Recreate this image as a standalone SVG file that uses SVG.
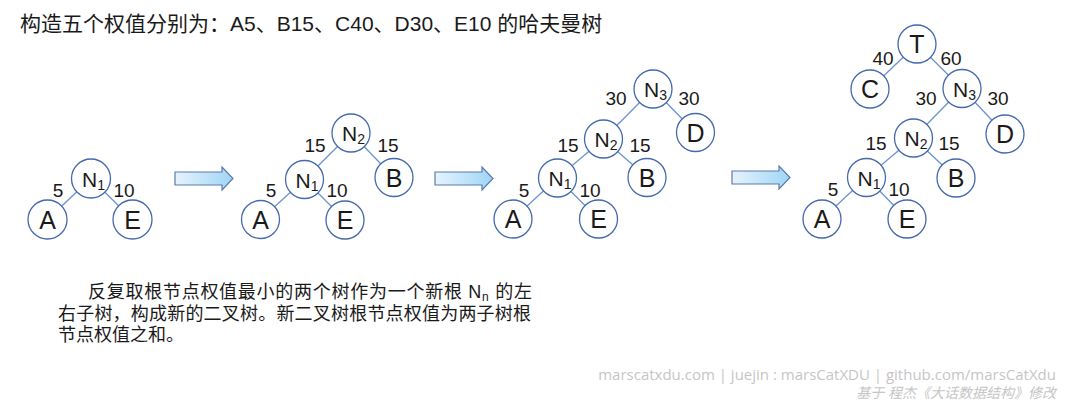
<svg xmlns="http://www.w3.org/2000/svg" width="1065" height="408" viewBox="0 0 1065 408">
<style>
.c{fill:#fff;stroke:#4469ad;stroke-width:1.3}
.e{stroke:#6d93cf;stroke-width:1.3;fill:none}
.lt{font-family:"Liberation Sans","Noto Sans CJK SC",sans-serif;fill:#1a1a1a;text-anchor:middle;font-size:25px}
.nt{font-family:"Liberation Sans",sans-serif;fill:#1a1a1a;font-size:21px}
.sb{font-size:14px}
.w{font-family:"Liberation Sans",sans-serif;fill:#1a1a1a;font-size:19px;text-anchor:middle}
.cn{font-family:"Liberation Sans","Noto Sans CJK SC",sans-serif;fill:#1a1a1a}
.ft{font-family:"Open Sans","Noto Sans CJK SC",sans-serif;fill:#c6c6c6;text-anchor:end}
.ar{fill:url(#g);stroke:#5a7cab;stroke-width:1.2}
</style>
<defs>
<linearGradient id="g" x1="0" y1="0" x2="1" y2="0">
<stop offset="0" stop-color="#e6f3fd"/>
<stop offset="1" stop-color="#9fd5f6"/>
</linearGradient>
<path id="arr" d="M175,172 H222 V167 L233,178.5 L222,190 V185 H175 Z"/>
</defs>

<text class="cn" x="20" y="31" font-size="21">构造五个权值分别为：A5、B15、C40、D30、E10 的哈夫曼树</text>

<g id="arrows">
<use href="#arr" class="ar"/>
<use href="#arr" class="ar" transform="translate(260,0)"/>
<use href="#arr" class="ar" transform="translate(557,-1)"/>
</g>

<g id="connectors">
<line class="e" x1="91" y1="178.5" x2="47.5" y2="219.5"/>
<line class="e" x1="91" y1="178.5" x2="132.5" y2="219.5"/>
<line class="e" x1="351" y1="133" x2="304.5" y2="179.5"/>
<line class="e" x1="351" y1="133" x2="394" y2="177.5"/>
<line class="e" x1="304.5" y1="179.5" x2="260.5" y2="219.5"/>
<line class="e" x1="304.5" y1="179.5" x2="345" y2="220"/>
<line class="e" x1="653" y1="89" x2="603.5" y2="139"/>
<line class="e" x1="653" y1="89" x2="695.5" y2="132.5"/>
<line class="e" x1="603.5" y1="139" x2="557.5" y2="178"/>
<line class="e" x1="603.5" y1="139" x2="647" y2="177.5"/>
<line class="e" x1="557.5" y1="178" x2="513" y2="219"/>
<line class="e" x1="557.5" y1="178" x2="598.5" y2="219"/>
<line class="e" x1="917" y1="44" x2="870" y2="89"/>
<line class="e" x1="917" y1="44" x2="962" y2="88.5"/>
<line class="e" x1="962" y1="88.5" x2="913.5" y2="138"/>
<line class="e" x1="962" y1="88.5" x2="1005" y2="134"/>
<line class="e" x1="913.5" y1="138" x2="866.5" y2="177.5"/>
<line class="e" x1="913.5" y1="138" x2="956" y2="178"/>
<line class="e" x1="866.5" y1="177.5" x2="822" y2="219"/>
<line class="e" x1="866.5" y1="177.5" x2="907" y2="219"/>
</g>

<g id="weights">
<text class="w" x="58" y="197">5</text>
<text class="w" x="124" y="197">10</text>

<text class="w" x="315" y="152">15</text>
<text class="w" x="388" y="152">15</text>
<text class="w" x="271" y="197">5</text>
<text class="w" x="337" y="197">10</text>

<text class="w" x="616" y="105">30</text>
<text class="w" x="689" y="105">30</text>
<text class="w" x="568" y="152">15</text>
<text class="w" x="640" y="152">15</text>
<text class="w" x="524" y="197">5</text>
<text class="w" x="590" y="197">10</text>

<text class="w" x="883" y="65">40</text>
<text class="w" x="951" y="65">60</text>
<text class="w" x="926" y="105">30</text>
<text class="w" x="998" y="105">30</text>
<text class="w" x="876" y="150">15</text>
<text class="w" x="949" y="150">15</text>
<text class="w" x="833" y="196">5</text>
<text class="w" x="899" y="196">10</text>
</g>

<g id="t1-N1"><circle class="c" cx="91" cy="178.5" r="19.5"/><text class="nt" x="82" y="187">N<tspan class="sb" dy="3">1</tspan></text></g>
<g id="t1-A"><circle class="c" cx="47.5" cy="219.5" r="19.5"/><text class="lt" x="47.5" y="228.5">A</text></g>
<g id="t1-E"><circle class="c" cx="132.5" cy="219.5" r="19.5"/><text class="lt" x="132.5" y="228.5">E</text></g>

<g id="t2-N2"><circle class="c" cx="351" cy="133" r="19"/><text class="nt" x="342" y="141">N<tspan class="sb" dy="3">2</tspan></text></g>
<g id="t2-N1"><circle class="c" cx="304.5" cy="179.5" r="19"/><text class="nt" x="295.5" y="188">N<tspan class="sb" dy="3">1</tspan></text></g>
<g id="t2-B"><circle class="c" cx="394" cy="177.5" r="19"/><text class="lt" x="394" y="186.5">B</text></g>
<g id="t2-A"><circle class="c" cx="260.5" cy="219.5" r="19"/><text class="lt" x="260.5" y="228.5">A</text></g>
<g id="t2-E"><circle class="c" cx="345" cy="220" r="19"/><text class="lt" x="345" y="229">E</text></g>

<g id="t3-N3"><circle class="c" cx="653" cy="89" r="19"/><text class="nt" x="644" y="97">N<tspan class="sb" dy="3">3</tspan></text></g>
<g id="t3-D"><circle class="c" cx="695.5" cy="132.5" r="19"/><text class="lt" x="695.5" y="141.5">D</text></g>
<g id="t3-N2"><circle class="c" cx="603.5" cy="139" r="19"/><text class="nt" x="594.5" y="147">N<tspan class="sb" dy="3">2</tspan></text></g>
<g id="t3-B"><circle class="c" cx="647" cy="177.5" r="19"/><text class="lt" x="647" y="186.5">B</text></g>
<g id="t3-N1"><circle class="c" cx="557.5" cy="178" r="19"/><text class="nt" x="548.5" y="186">N<tspan class="sb" dy="3">1</tspan></text></g>
<g id="t3-A"><circle class="c" cx="513" cy="219" r="19"/><text class="lt" x="513" y="228">A</text></g>
<g id="t3-E"><circle class="c" cx="598.5" cy="219" r="19"/><text class="lt" x="598.5" y="228">E</text></g>

<g id="t4-T"><circle class="c" cx="917" cy="44" r="19"/><text class="lt" x="917" y="53">T</text></g>
<g id="t4-C"><circle class="c" cx="870" cy="89" r="19"/><text class="lt" x="870" y="98">C</text></g>
<g id="t4-N3"><circle class="c" cx="962" cy="88.5" r="19"/><text class="nt" x="953" y="96.5">N<tspan class="sb" dy="3">3</tspan></text></g>
<g id="t4-D"><circle class="c" cx="1005" cy="134" r="19"/><text class="lt" x="1005" y="143">D</text></g>
<g id="t4-N2"><circle class="c" cx="913.5" cy="138" r="19"/><text class="nt" x="904.5" y="146">N<tspan class="sb" dy="3">2</tspan></text></g>
<g id="t4-B"><circle class="c" cx="956" cy="178" r="19"/><text class="lt" x="956" y="187">B</text></g>
<g id="t4-N1"><circle class="c" cx="866.5" cy="177.5" r="19"/><text class="nt" x="857.5" y="185.5">N<tspan class="sb" dy="3">1</tspan></text></g>
<g id="t4-A"><circle class="c" cx="822" cy="219" r="19"/><text class="lt" x="822" y="228">A</text></g>
<g id="t4-E"><circle class="c" cx="907" cy="219" r="19"/><text class="lt" x="907" y="228">E</text></g>

<g id="description" class="cn" font-size="18">
<text x="88" y="298" textLength="444" lengthAdjust="spacing">反复取根节点权值最小的两个树作为一个新根 N<tspan font-size="12" dy="3">n</tspan><tspan dy="-3"> 的左</tspan></text>
<text x="58" y="320" textLength="473" lengthAdjust="spacing">右子树，构成新的二叉树。新二叉树根节点权值为两子树根</text>
<text x="58" y="341">节点权值之和。</text>
</g>

<g id="footer">
<text class="ft" x="1056" y="380" font-size="15">marscatxdu.com | juejin : marsCatXDU | github.com/marsCatXdu</text>
<text class="ft" x="1056" y="398" font-size="14" font-style="italic">基于 程杰《大话数据结构》修改</text>
</g>
</svg>
